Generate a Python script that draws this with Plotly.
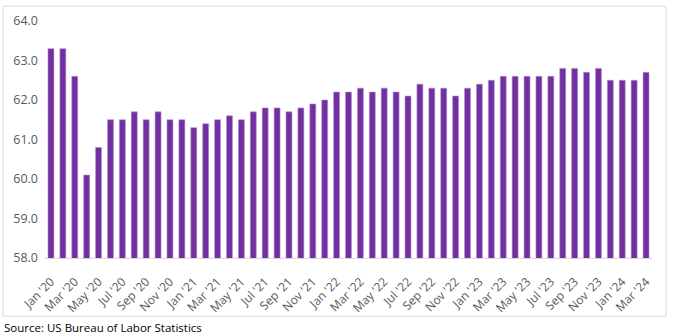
import plotly.graph_objects as go

months = []
for yr in range(20, 25):
    for m in ["Jan", "Feb", "Mar", "Apr", "May", "Jun", "Jul", "Aug", "Sep", "Oct", "Nov", "Dec"]:
        months.append(f"{m} '{yr}")
months = months[:51]  # Jan '20 .. Mar '24

participation = [
    63.3, 63.3, 62.6, 60.1, 60.8, 61.5, 61.5, 61.7, 61.5, 61.7, 61.5, 61.5,
    61.3, 61.4, 61.5, 61.6, 61.5, 61.7, 61.8, 61.8, 61.7, 61.8, 61.9, 62.0,
    62.2, 62.2, 62.3, 62.2, 62.3, 62.2, 62.1, 62.4, 62.3, 62.3, 62.1, 62.3,
    62.4, 62.5, 62.6, 62.6, 62.6, 62.6, 62.6, 62.8, 62.8, 62.7, 62.8, 62.5,
    62.5, 62.5, 62.7,
]
tick_labels = months[::2]
y_ticks = [58, 59, 60, 61, 62, 63, 64]

fig = go.Figure(go.Bar(
    x=months, y=participation,
    marker=dict(color="#7030A0", line=dict(color="#B58FD0", width=0.6)),
    hoverinfo="x+y",
))

W, H = 675, 336
L, R, T, B = 45, 23, 18, 78
pw, ph = W - L - R, H - T - B

def px_x(p):
    return (p - L) / pw

def px_y(p):
    return (H - B - p) / ph

fig.update_layout(
    width=W, height=H,
    margin=dict(l=L, r=R, t=T, b=B),
    paper_bgcolor="white", plot_bgcolor="white",
    bargap=0.5, showlegend=False,
    font=dict(family="Open Sans, sans-serif", color="#595959"),
    xaxis=dict(
        type="category", tickmode="array", tickvals=tick_labels, ticktext=tick_labels,
        tickangle=-45, tickfont=dict(size=12, color="#595959"), ticklabelstandoff=11,
        showline=True, linecolor="#D9D9D9", linewidth=1, ticks="", showgrid=False,
    ),
    yaxis=dict(
        range=[58, 64], tickvals=y_ticks, tickformat=".1f",
        tickfont=dict(size=12.5, color="#595959"),
        showgrid=False, zeroline=False, showline=False, ticks="", ticklabelstandoff=6,
    ),
    shapes=[dict(
        type="rect", xref="paper", yref="paper",
        x0=px_x(3), x1=px_x(666), y0=px_y(317), y1=px_y(3),
        line=dict(color="#D9D9D9", width=1), fillcolor="rgba(0,0,0,0)", layer="below",
    )],
    annotations=[dict(
        text="Source: US Bureau of Labor Statistics", xref="paper", yref="paper",
        x=px_x(2), y=px_y(328), xanchor="left", yanchor="middle", showarrow=False,
        font=dict(family="Open Sans, Arial, sans-serif", size=11.5, color="#000000"),
    )],
)

fig.write_html("out.html")
